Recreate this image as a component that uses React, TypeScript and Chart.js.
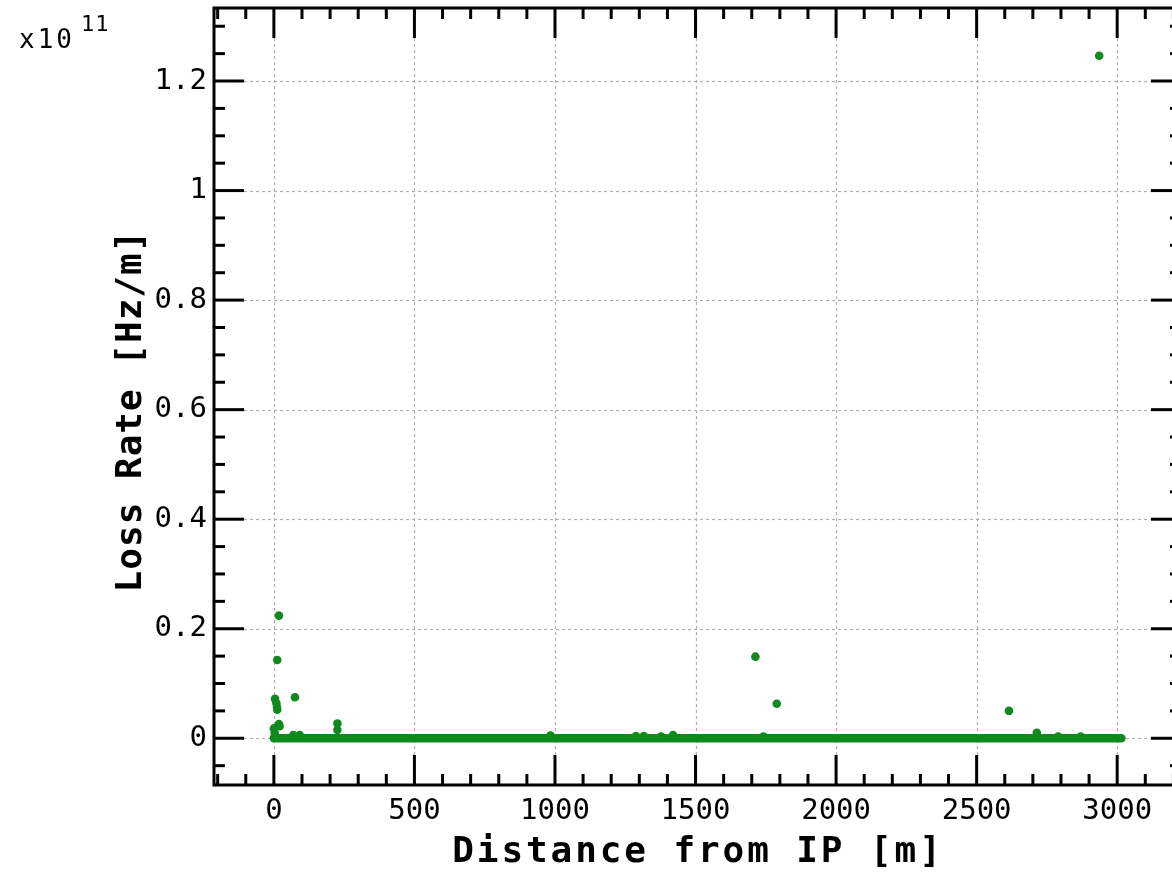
import React, { useEffect, useRef } from "react";
import { Chart, registerables } from "chart.js";

Chart.register(...registerables);

// ---- data (loss rate in units of 1e11 Hz/m, distance in m) ----
const lossDistance = [0, 3, 4, 9, 11, 12, 12, 18, 18, 20, 3, 69, 75, 92, 226, 226, 984, 1288, 1316, 1377, 1420, 1713, 1742, 1789, 2615, 2714, 2790, 2870, 2936];
const lossRate = [0.018, 0.010, 0.072, 0.064, 0.057, 0.052, 0.143, 0.224, 0.026, 0.022, 0.003, 0.006, 0.075, 0.006, 0.027, 0.015, 0.005, 0.004, 0.004, 0.003, 0.006, 0.149, 0.003, 0.063, 0.050, 0.010, 0.003, 0.003, 1.246];
// dense band of near-zero loss points along the whole ring
const baselineDistance = [0, 3015];
const baselineRate = [0, 0];

const xTickValues = [0, 500, 1000, 1500, 2000, 2500, 3000];
const yTickValues = [0, 0.2, 0.4, 0.6, 0.8, 1, 1.2];
const xRange = [-213, 3227];
const yRange = [-0.0853, 1.3333];
const xMinorStep = 100;
const yMinorStep = 0.05;

const xTitle = "Distance from IP [m]";
const yTitle = "Loss Rate [Hz/m]";
const GREEN = "#11891f";
const MONO = '"DejaVu Sans Mono", monospace';

const decorPlugin = {
  id: "decor",
  beforeDatasetsDraw(chart: any) {
    const { ctx, chartArea: a, scales } = chart;
    const x = scales.x, y = scales.y;
    ctx.save();
    ctx.strokeStyle = "#b0b0b0";
    ctx.lineWidth = 1.2;
    ctx.setLineDash([3, 3]);
    for (const v of xTickValues) {
      const p = Math.round(x.getPixelForValue(v)) + 0.5;
      ctx.beginPath(); ctx.moveTo(p, a.top); ctx.lineTo(p, a.bottom); ctx.stroke();
    }
    for (const v of yTickValues) {
      const p = Math.round(y.getPixelForValue(v)) + 0.5;
      ctx.beginPath(); ctx.moveTo(a.left, p); ctx.lineTo(a.right, p); ctx.stroke();
    }
    ctx.restore();
  },
  afterDatasetsDraw(chart: any) {
    const { ctx, chartArea: a, scales } = chart;
    const x = scales.x, y = scales.y;
    ctx.save();
    ctx.strokeStyle = "#000";
    ctx.lineWidth = 3;
    ctx.lineCap = "butt";
    const major = 30, minor = 11;
    const line = (x1: number, y1: number, x2: number, y2: number) => {
      ctx.beginPath(); ctx.moveTo(x1, y1); ctx.lineTo(x2, y2); ctx.stroke();
    };
    // x ticks (top & bottom)
    const kx0 = Math.ceil(xRange[0] / xMinorStep), kx1 = Math.floor(xRange[1] / xMinorStep);
    for (let k = kx0; k <= kx1; k++) {
      const len = k % 5 === 0 ? major : minor;
      const p = x.getPixelForValue(k * xMinorStep);
      line(p, a.bottom, p, a.bottom - len);
      line(p, a.top, p, a.top + len);
    }
    // y ticks (left & right)
    const ky0 = Math.ceil(yRange[0] / yMinorStep - 1e-9), ky1 = Math.floor(yRange[1] / yMinorStep + 1e-9);
    for (let k = ky0; k <= ky1; k++) {
      const len = k % 4 === 0 ? major : minor;
      const p = y.getPixelForValue(k * yMinorStep);
      line(a.left, p, a.left + len, p);
      line(a.right, p, a.right - len, p);
    }
    // frame
    ctx.strokeRect(a.left, a.top, a.right - a.left, a.bottom - a.top);
    ctx.restore();
  },
  afterDraw(chart: any) {
    const { ctx } = chart;
    ctx.save();
    ctx.fillStyle = "#000";
    // x title
    ctx.font = `bold 36px ${MONO}`;
    (ctx as any).letterSpacing = "2.9px";
    ctx.textAlign = "center";
    ctx.textBaseline = "alphabetic";
    ctx.fillText(xTitle, 698, 862);
    // y title
    (ctx as any).letterSpacing = "1px";
    ctx.translate(141, 411);
    ctx.rotate(-Math.PI / 2);
    ctx.fillText(yTitle, 0, 0);
    ctx.restore();
    // multiplier
    ctx.save();
    ctx.fillStyle = "#000";
    ctx.textAlign = "left";
    ctx.textBaseline = "alphabetic";
    ctx.font = `26px ${MONO}`;
    (ctx as any).letterSpacing = "3px";
    ctx.fillText("x10", 19, 48);
    ctx.font = `22px ${MONO}`;
    (ctx as any).letterSpacing = "1px";
    ctx.fillText("11", 81, 31);
    ctx.restore();
  },
};

export default function App() {
  const ref = useRef<HTMLCanvasElement | null>(null);
  useEffect(() => {
    if (!ref.current) return;
    const chart = new Chart(ref.current, {
      type: "scatter",
      data: {
        datasets: [
          {
            type: "line",
            data: baselineDistance.map((d, i) => ({ x: d, y: baselineRate[i] })),
            borderColor: GREEN,
            backgroundColor: GREEN,
            borderWidth: 8.5,
            borderCapStyle: "round",
            pointRadius: 0,
            fill: false,
            order: 2,
          } as any,
          {
            data: lossDistance.map((d, i) => ({ x: d, y: lossRate[i] })),
            backgroundColor: GREEN,
            borderColor: GREEN,
            borderWidth: 0,
            pointRadius: 4.3,
            order: 1,
          },
        ],
      },
      options: {
        responsive: false,
        animation: false,
        devicePixelRatio: 1,
        layout: { padding: { left: 0, top: 8, right: 19, bottom: 0 } },
        plugins: { legend: { display: false }, tooltip: { enabled: false } },
        scales: {
          x: {
            type: "linear",
            min: xRange[0],
            max: xRange[1],
            grid: { display: false, drawTicks: false },
            border: { display: false },
            afterBuildTicks: (s: any) => { s.ticks = xTickValues.map((v) => ({ value: v })); },
            afterFit: (s: any) => { s.height = 87; s.paddingLeft = 0; s.paddingRight = 0; },
            ticks: {
              color: "#000",
              font: { family: MONO, size: 29 },
              padding: 9,
              maxRotation: 0,
              autoSkip: false,
              callback: (v: any) => String(v),
            },
          },
          y: {
            type: "linear",
            min: yRange[0],
            max: yRange[1],
            grid: { display: false, drawTicks: false },
            border: { display: false },
            afterBuildTicks: (s: any) => { s.ticks = yTickValues.map((v) => ({ value: v })); },
            afterFit: (s: any) => { s.width = 214; s.paddingTop = 0; s.paddingBottom = 0; },
            ticks: {
              color: "#000",
              font: { family: MONO, size: 29 },
              padding: 7,
              autoSkip: false,
              callback: (v: any) => String(Math.round(Number(v) * 10) / 10),
            },
          },
        },
      },
      plugins: [decorPlugin],
    });
    return () => chart.destroy();
  }, []);
  return (
    <div style={{ position: "fixed", left: 0, top: 0, width: 1172, height: 872, overflow: "hidden", background: "#fff" }}>
      <canvas ref={ref} width={1200} height={872} style={{ display: "block" }} />
    </div>
  );
}
